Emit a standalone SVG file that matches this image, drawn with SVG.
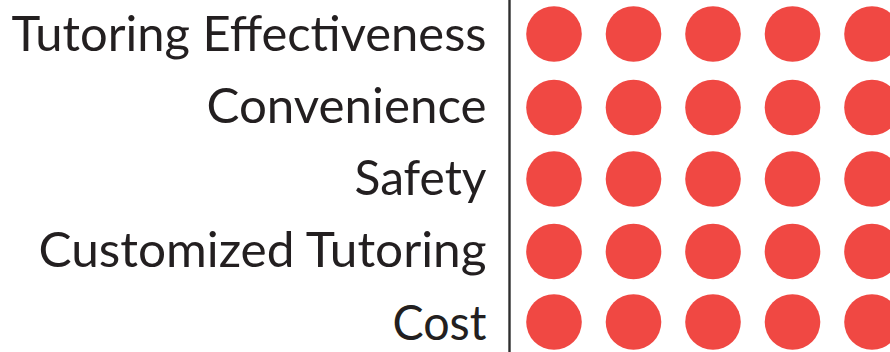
<svg xmlns="http://www.w3.org/2000/svg" width="890" height="352" viewBox="0 0 890 352">
  <style>
    .lbl { font-family: Lato, "Open Sans", "Liberation Sans", sans-serif; font-size: 49px; fill: #231f20; text-anchor: end; }
    .dot { fill: #f04843; }
    .axis { stroke: #2e2e2e; stroke-width: 2.4; fill: none; }
  </style>
  <rect width="890" height="352" fill="#ffffff"/>
  <g id="connectors">
    <line class="axis" x1="509.5" y1="0" x2="509.5" y2="352"/>
  </g>
  <g id="row-tutoring-effectiveness">
    <text class="lbl" x="486.5" y="51" textLength="475" lengthAdjust="spacingAndGlyphs">Tutoring Effectiveness</text>
    <circle class="dot" cx="554" cy="34" r="27.8"/>
    <circle class="dot" cx="633.5" cy="34" r="27.8"/>
    <circle class="dot" cx="713" cy="34" r="27.8"/>
    <circle class="dot" cx="792.5" cy="34" r="27.8"/>
    <circle class="dot" cx="872" cy="34" r="27.8"/>
  </g>
  <g id="row-convenience">
    <text class="lbl" x="486.5" y="123" textLength="280" lengthAdjust="spacingAndGlyphs">Convenience</text>
    <circle class="dot" cx="554" cy="107.5" r="27.8"/>
    <circle class="dot" cx="633.5" cy="107.5" r="27.8"/>
    <circle class="dot" cx="713" cy="107.5" r="27.8"/>
    <circle class="dot" cx="792.5" cy="107.5" r="27.8"/>
    <circle class="dot" cx="872" cy="107.5" r="27.8"/>
  </g>
  <g id="row-safety">
    <text class="lbl" x="486.5" y="195" textLength="132" lengthAdjust="spacingAndGlyphs">Safety</text>
    <circle class="dot" cx="554" cy="179" r="27.8"/>
    <circle class="dot" cx="633.5" cy="179" r="27.8"/>
    <circle class="dot" cx="713" cy="179" r="27.8"/>
    <circle class="dot" cx="792.5" cy="179" r="27.8"/>
    <circle class="dot" cx="872" cy="179" r="27.8"/>
  </g>
  <g id="row-customized-tutoring">
    <text class="lbl" x="486.5" y="267" textLength="448" lengthAdjust="spacingAndGlyphs">Customized Tutoring</text>
    <circle class="dot" cx="554" cy="251.5" r="27.8"/>
    <circle class="dot" cx="633.5" cy="251.5" r="27.8"/>
    <circle class="dot" cx="713" cy="251.5" r="27.8"/>
    <circle class="dot" cx="792.5" cy="251.5" r="27.8"/>
    <circle class="dot" cx="872" cy="251.5" r="27.8"/>
  </g>
  <g id="row-cost">
    <text class="lbl" x="486.5" y="340" textLength="94" lengthAdjust="spacingAndGlyphs">Cost</text>
    <circle class="dot" cx="554" cy="322" r="27.8"/>
    <circle class="dot" cx="633.5" cy="322" r="27.8"/>
    <circle class="dot" cx="713" cy="322" r="27.8"/>
    <circle class="dot" cx="792.5" cy="322" r="27.8"/>
    <circle class="dot" cx="872" cy="322" r="27.8"/>
  </g>
</svg>
